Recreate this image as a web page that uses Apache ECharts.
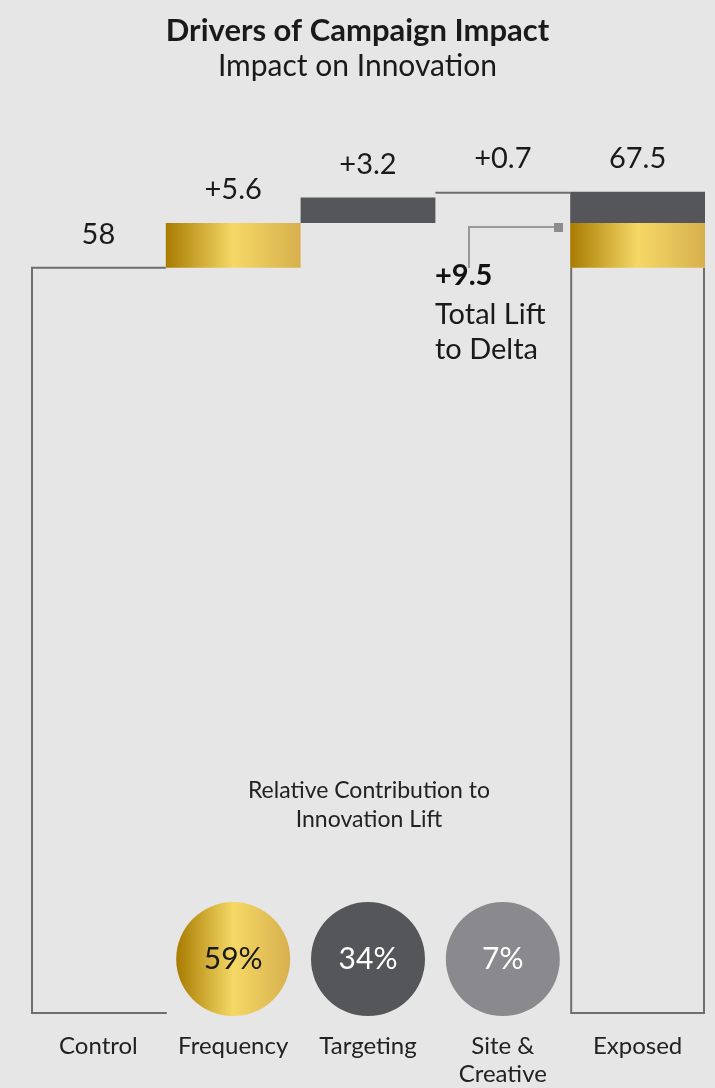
<!DOCTYPE html>
<html>
<head>
<meta charset="utf-8">
<script src="https://cdn.jsdelivr.net/npm/echarts@6/dist/echarts.min.js"></script>
<style>
html,body{margin:0;padding:0;background:#e6e6e6;}
#chart{width:715px;height:1088px;}
</style>
</head>
<body>
<div id="chart"></div>
<script>
// ---- data ----
const categories = ['Control', 'Frequency', 'Targeting', 'Site &\nCreative', 'Exposed'];
const controlValue = 58;
const driverLifts = [5.6, 3.2, 0.7];
const exposedValue = 67.5;
const totalLift = 9.5;
const contributionShares = [59, 34, 7];
const valueLabels = ['58', '+5.6', '+3.2', '+0.7', '67.5'];

// ---- styles ----
const FONT = 'Lato';
const GOLD = new echarts.graphic.LinearGradient(0, 0, 1, 0, [
  { offset: 0, color: '#a87b00' },
  { offset: 0.5, color: '#f5d866' },
  { offset: 1, color: '#d7b04d' }
]);
const DARK = '#55565a';
const MID = '#8a8a8e';
const LINE = '#6e6e6e';
const Y_MIN = -35.375, Y_MAX = 79;
const BUBBLE_LEVEL = -28.625;

// build waterfall items from data
const items = [];
items.push({ cat: 0, lo: Y_MIN, hi: controlValue, kind: 'base', label: valueLabels[0] });
const driverKinds = ['gold', 'dark', 'thin'];
let run = controlValue;
driverLifts.forEach((d, k) => {
  items.push({ cat: k + 1, lo: run, hi: run + d, kind: driverKinds[k], label: valueLabels[k + 1] });
  run += d;
});
items.push({ cat: 4, lo: Y_MIN, hi: controlValue, kind: 'open' });
items.push({ cat: 4, lo: controlValue, hi: controlValue + driverLifts[0], kind: 'gold' });
items.push({ cat: 4, lo: controlValue + driverLifts[0], hi: exposedValue, kind: 'dark', label: valueLabels[4] });

function renderItem(params, api) {
  const it = items[params.dataIndex];
  const top = api.coord([api.value(0), api.value(2)]);
  const bot = api.coord([api.value(0), api.value(1)]);
  const w = api.size([1, 0])[0];
  const x0 = top[0] - w / 2;
  const children = [];
  if (it.kind === 'gold' || it.kind === 'dark') {
    children.push({ type: 'rect', shape: { x: x0, y: top[1], width: w, height: bot[1] - top[1] },
      style: { fill: it.kind === 'gold' ? GOLD : DARK } });
  } else if (it.kind === 'thin') {
    children.push({ type: 'line', shape: { x1: x0, y1: top[1] + 1, x2: x0 + w, y2: top[1] + 1 },
      style: { stroke: LINE, lineWidth: 2 } });
  } else if (it.kind === 'base') {
    children.push({ type: 'polyline', shape: { points: [[x0 + w, top[1]], [x0 + 1, top[1]], [x0 + 1, bot[1]], [x0 + w + 1, bot[1]]] },
      style: { stroke: LINE, lineWidth: 2, fill: null } });
  } else if (it.kind === 'open') {
    children.push({ type: 'polyline', shape: { points: [[x0 + 1, top[1]], [x0 + 1, bot[1]], [x0 + w - 1, bot[1]], [x0 + w - 1, top[1]]] },
      style: { stroke: LINE, lineWidth: 2, fill: null } });
  }
  if (it.label) {
    children.push({ type: 'text', x: top[0], y: top[1] - 33,
      style: { text: it.label, fill: '#1a1a1a', font: '29px ' + FONT, align: 'center', verticalAlign: 'middle' } });
  }
  return { type: 'group', children };
}

const bubbleColors = [GOLD, DARK, MID];
const bubbleText = ['#1a1a1a', '#ffffff', '#ffffff'];

const chart = echarts.init(document.getElementById('chart'));
chart.setOption({
  backgroundColor: '#e6e6e6',
  animation: false,
  title: {
    text: 'Drivers of Campaign Impact',
    subtext: 'Impact on Innovation',
    left: 'center', top: 9, itemGap: 1,
    textStyle: { fontFamily: FONT, fontSize: 31, fontWeight: 'bold', color: '#1a1a1a', lineHeight: 34 },
    subtextStyle: { fontFamily: FONT, fontSize: 30, fontWeight: 'normal', color: '#1a1a1a', lineHeight: 34 }
  },
  grid: { left: 31, right: 10, top: 100, bottom: 73 },
  xAxis: {
    type: 'category', data: categories,
    axisLine: { show: false }, axisTick: { show: false }, splitLine: { show: false },
    axisLabel: { fontFamily: FONT, fontSize: 24, color: '#222', margin: 19, lineHeight: 28, interval: 0 }
  },
  yAxis: { type: 'value', min: Y_MIN, max: Y_MAX, show: false, splitLine: { show: false } },
  series: [
    {
      type: 'custom', renderItem: renderItem, clip: false,
      data: items.map(it => [it.cat, it.lo, it.hi]),
      encode: { x: 0, y: [1, 2] }
    },
    {
      type: 'scatter', symbol: 'circle', symbolSize: 114,
      data: contributionShares.map((s, k) => ({
        value: [k + 1, BUBBLE_LEVEL], share: s,
        itemStyle: { color: bubbleColors[k], opacity: 1 },
        label: { color: bubbleText[k] }
      })),
      itemStyle: { opacity: 1 },
      label: { show: true, position: 'inside', fontFamily: FONT, fontSize: 30,
        formatter: p => p.data.share + '%' },
      emphasis: { disabled: true }
    }
  ],
  graphic: [
    { type: 'text', x: 369, y: 790,
      style: { text: 'Relative Contribution to\nInnovation Lift', font: '23px ' + FONT, fill: '#222', align: 'center', verticalAlign: 'top', lineHeight: 29, y: -14 } },
    { type: 'polyline', shape: { points: [[469, 268], [469, 227], [556, 227]] },
      style: { stroke: '#999', lineWidth: 2, fill: null } },
    { type: 'rect', shape: { x: 554, y: 223, width: 9, height: 9 }, style: { fill: '#8c8c8c' } },
    { type: 'text', x: 435, y: 276,
      style: { text: '+' + totalLift, font: 'bold 29px ' + FONT, fill: '#111', verticalAlign: 'middle' } },
    { type: 'text', x: 435, y: 297,
      style: { text: 'Total Lift\nto Delta', font: '29px ' + FONT, fill: '#1a1a1a', lineHeight: 35, verticalAlign: 'top' } }
  ]
});
</script>
</body>
</html>
